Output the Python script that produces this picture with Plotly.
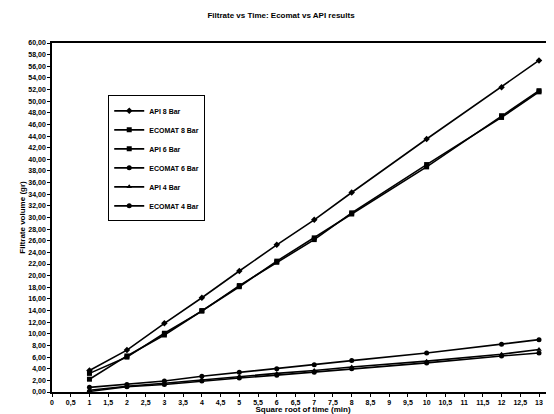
import plotly.graph_objects as go

x_vals = [1, 2, 3, 4, 5, 6, 7, 8, 10, 12, 13]
api_8 = [3.7, 7.2, 11.8, 16.2, 20.8, 25.3, 29.6, 34.3, 43.5, 52.4, 57.0]
ecomat_8 = [3.2, 6.0, 10.1, 13.9, 18.3, 22.3, 26.2, 30.8, 39.1, 47.2, 51.6]
api_6 = [2.2, 6.2, 9.8, 14.0, 18.1, 22.5, 26.5, 30.6, 38.7, 47.5, 51.8]
ecomat_6 = [0.8, 1.3, 1.9, 2.7, 3.4, 4.0, 4.7, 5.4, 6.7, 8.2, 9.0]
api_4 = [0.3, 1.0, 1.5, 2.1, 2.7, 3.2, 3.7, 4.3, 5.3, 6.5, 7.3]
ecomat_4 = [0.1, 0.9, 1.3, 1.9, 2.4, 2.9, 3.4, 4.0, 5.0, 6.2, 6.7]

series_names = ["API 8 Bar", "ECOMAT 8 Bar", "API 6 Bar", "ECOMAT 6 Bar", "API 4 Bar", "ECOMAT 4 Bar"]
series_vals = [api_8, ecomat_8, api_6, ecomat_6, api_4, ecomat_4]
symbols = ["diamond", "square", "square", "circle", "triangle-up", "circle"]

x_ticks = [i * 0.5 for i in range(0, 28)]
x_ticktext = [("%g" % v).replace(".", ",") for v in x_ticks]
y_ticks = list(range(0, 62, 2))
y_ticktext = [("%.2f" % v).replace(".", ",") for v in y_ticks]

fig = go.Figure()
for name, vals, sym in zip(series_names, series_vals, symbols):
    fig.add_trace(go.Scatter(
        x=x_vals, y=vals, name=name, mode="lines+markers",
        line=dict(color="black", width=1.6),
        marker=dict(symbol=sym, size=5, color="black"),
    ))

fnt = "Liberation Sans, Arial, sans-serif"
fig.update_layout(
    width=546, height=406,
    margin=dict(l=44, r=0, t=35, b=22),
    paper_bgcolor="white", plot_bgcolor="white",
    title=dict(text="Filtrate vs Time: Ecomat vs API results", x=0.5, xanchor="center",
               y=0.983, yanchor="middle", automargin=False,
               font=dict(family=fnt, size=8, color="black", weight="bold")),
    font=dict(family=fnt, color="black"),
    showlegend=True,
    legend=dict(x=0.112, y=0.85, xanchor="left", yanchor="top",
                bgcolor="white", bordercolor="black", borderwidth=1,
                font=dict(family=fnt, size=7, color="black", weight="bold"),
                itemwidth=30, tracegroupgap=0),
    xaxis=dict(range=[0, 13.4], tickvals=x_ticks, ticktext=x_ticktext, automargin=False,
               showgrid=False, zeroline=False, showline=True, linecolor="black", linewidth=1.5,
               mirror=True, ticks="outside", ticklen=3, tickcolor="black",
               tickfont=dict(family=fnt, size=7, color="black", weight="bold"),
               title=dict(text="Square root of time (min)", standoff=2,
                          font=dict(family=fnt, size=8, color="black", weight="bold"))),
    yaxis=dict(range=[0, 60], tickvals=y_ticks, ticktext=y_ticktext, automargin=False,
               showgrid=False, zeroline=False, showline=True, linecolor="black", linewidth=1.5,
               mirror=True, ticks="outside", ticklen=3, tickcolor="black",
               tickfont=dict(family=fnt, size=7, color="black", weight="bold"),
               title=dict(text="Filtrate volume (gr)", standoff=2,
                          font=dict(family=fnt, size=8, color="black", weight="bold"))),
)

fig.write_html("out.html")
